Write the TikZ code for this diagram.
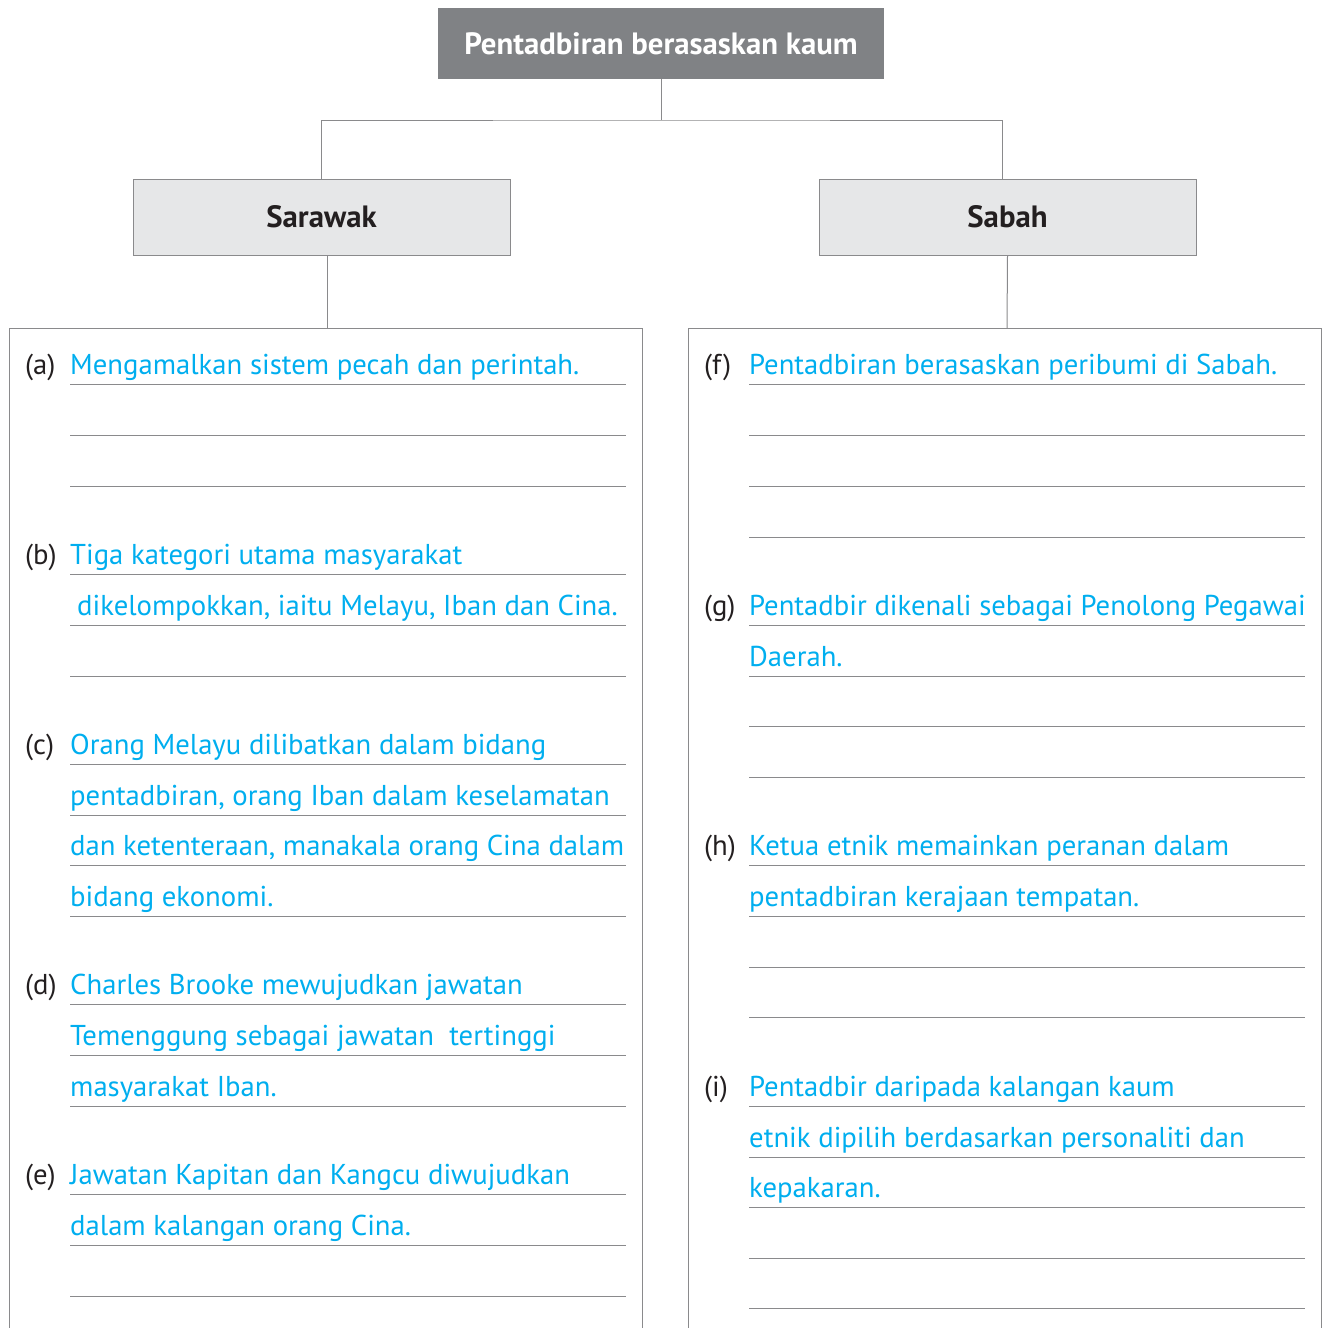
\documentclass[tikz,border=0pt]{standalone}
\usepackage{fontspec}
\setmainfont{PT Sans}
\usetikzlibrary{positioning, calc}
\definecolor{headgray}{RGB}{128,130,133}
\definecolor{boxgray}{RGB}{230,231,232}
\definecolor{linegray}{RGB}{138,138,140}
\definecolor{labelink}{RGB}{35,31,32}
\definecolor{answercyan}{RGB}{0,174,239}
\newcommand{\itemfont}{\fontsize{28.7}{32}\selectfont}

\begin{document}
\begin{tikzpicture}[x=1pt, y=-1pt,
    headbox/.style={fill=headgray, text=white, font=\bfseries\fontsize{30.8}{34}\selectfont,
        minimum width=446pt, minimum height=71pt, inner sep=0pt},
    statebox/.style={fill=boxgray, draw=linegray, line width=1pt, text=labelink,
        font=\bfseries\fontsize{30.8}{34}\selectfont, minimum width=377pt, minimum height=76pt, inner sep=0pt},
    tag/.style={anchor=base west, text=labelink, font=\itemfont, inner sep=0pt},
    answer/.style={anchor=base west, text=answercyan, font=\itemfont, inner sep=0pt},
    ansrule/.style={draw=linegray, line width=1pt},
    link/.style={draw=linegray, line width=1pt}]
    \useasboundingbox (0,0) rectangle (1326,1328);

    % heading and the two states
    \node[headbox] (head) at (661,43.5) {Pentadbiran berasaskan kaum};
    \node[statebox] (sarawak) at (321.5,217) {Sarawak};
    \node[statebox] (sabah) at (1007.5,217) {Sabah};

    \coordinate (fork) at (661,120);
    \coordinate (lpanel) at (327,328);
    \coordinate (rpanel) at (1007,328);

    \draw[link] (head.south) -- (fork);
    \draw[link] (sarawak.north) |- (fork) -| ([xshift=-5.5pt]sabah.north);
    \draw[link] ([xshift=5.5pt]sarawak.south) -- (lpanel);
    \draw[link] (sabah.south) -- (rpanel);

    % panels (open at the bottom)
    \draw[link] (9,1340) -- (9,328) -- (642,328) -- (642,1340);
    \draw[link] (688,1340) -- (688,328) -- (1321,328) -- (1321,1340);

    % answer rules
    \foreach \y in {384,435,486,574,625,676,764,815,865,916,1004,1055,1106,1194,1245,1296}
        \draw[ansrule] (70,\y) -- (626,\y);
    \foreach \y in {384,435,486,537,625,676,726,777,865,916,967,1017,1106,1157,1207,1258,1308}
        \draw[ansrule] (749,\y) -- (1305,\y);

    % Sarawak
    \node[tag] (ta) at (25,374) {(a)};
    \node[answer] (a1) at (70,374) {Mengamalkan sistem pecah dan perintah.};

    \node[tag] (tb) at (25,564) {(b)};
    \node[answer] (b1) at (70,564) {Tiga kategori utama masyarakat};
    \node[answer] (b2) at (77,615) {dikelompokkan, iaitu Melayu, Iban dan Cina.};

    \node[tag] (tc) at (25,754) {(c)};
    \node[answer] (c1) at (70,754) {Orang Melayu dilibatkan dalam bidang};
    \node[answer] (c2) at (70,805) {pentadbiran, orang Iban dalam keselamatan};
    \node[answer] (c3) at (70,855) {dan ketenteraan, manakala orang Cina dalam};
    \node[answer] (c4) at (70,906) {bidang ekonomi.};

    \node[tag] (td) at (25,994) {(d)};
    \node[answer] (d1) at (70,994) {Charles Brooke mewujudkan jawatan};
    \node[answer] (d2) at (70,1045) {Temenggung sebagai jawatan\ \ tertinggi};
    \node[answer] (d3) at (70,1096) {masyarakat Iban.};

    \node[tag] (te) at (25,1184) {(e)};
    \node[answer] (e1) at (70,1184) {Jawatan Kapitan dan Kangcu diwujudkan};
    \node[answer] (e2) at (70,1235) {dalam kalangan orang Cina.};

    % Sabah
    \node[tag] (tf) at (704,374) {(f)};
    \node[answer] (f1) at (749,374) {Pentadbiran berasaskan peribumi di Sabah.};

    \node[tag] (tg) at (704,615) {(g)};
    \node[answer] (g1) at (749,615) {Pentadbir dikenali sebagai Penolong Pegawai};
    \node[answer] (g2) at (749,666) {Daerah.};

    \node[tag] (th) at (704,855) {(h)};
    \node[answer] (h1) at (749,855) {Ketua etnik memainkan peranan dalam};
    \node[answer] (h2) at (749,906) {pentadbiran kerajaan tempatan.};

    \node[tag] (ti) at (704,1096) {(i)};
    \node[answer] (i1) at (749,1096) {Pentadbir daripada kalangan kaum};
    \node[answer] (i2) at (749,1147) {etnik dipilih berdasarkan personaliti dan};
    \node[answer] (i3) at (749,1197) {kepakaran.};
\end{tikzpicture}
\end{document}
